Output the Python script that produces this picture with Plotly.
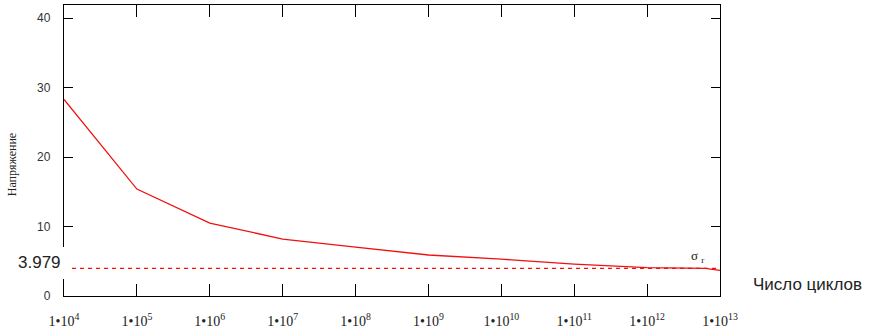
import plotly.graph_objects as go

# Data
cycles = [1e4, 1e5, 1e6, 1e7, 1e8, 1e9, 1e10, 1e11, 1e12, 6.3e12, 1e13]
stress = [28.3, 15.4, 10.5, 8.2, 7.05, 5.9, 5.3, 4.6, 4.1, 3.98, 3.7]
sigma_r = 3.979
limit_x = [1e4, 1e13]
tick_exps = [4, 5, 6, 7, 8, 9, 10, 11, 12, 13]
tick_vals = [10 ** e for e in tick_exps]
tick_text = [f"1\u202210<sup>{e}</sup>" for e in tick_exps]
y_ticks = [0, 10, 20, 30, 40]

fig = go.Figure()
fig.add_trace(go.Scatter(x=cycles, y=stress, mode="lines",
                         line=dict(color="#f01010", width=1.3), showlegend=False))
fig.add_trace(go.Scatter(x=limit_x, y=[sigma_r, sigma_r], mode="lines",
                         line=dict(color="#f01010", width=1.3, dash="4px,4px"), showlegend=False))

fig.update_layout(
    width=875, height=334,
    margin=dict(l=64, r=155, t=5, b=38, autoexpand=False),
    paper_bgcolor="white", plot_bgcolor="white",
    font=dict(family="Liberation Serif", color="#222"),
)
fig.update_xaxes(type="log", range=[4, 13], tickvals=tick_vals, ticktext=tick_text,
                 ticks="inside", ticklen=12, tickwidth=1.3, tickcolor="black",
                 showline=True, linecolor="black", linewidth=1.3, mirror="allticks",
                 showgrid=False, zeroline=False, ticklabelstandoff=12,
                 tickfont=dict(family="Liberation Serif", size=14, color="#222"))
fig.update_yaxes(range=[0, 41.9], tickvals=y_ticks,
                 ticks="inside", ticklen=9, tickwidth=1.3, tickcolor="black",
                 showline=True, linecolor="black", linewidth=1.3, mirror="allticks",
                 showgrid=False, zeroline=False, ticklabelstandoff=10,
                 tickfont=dict(family="Liberation Sans", size=12, color="#333"))

# white box behind the 3.979 label (covers the axis)
fig.add_shape(type="rect", xref="paper", yref="paper",
              x0=-0.07, x1=0.0122, y0=0.058, y1=0.168,
              fillcolor="white", line=dict(width=0), layer="above")
fig.add_annotation(text="3.979", xref="paper", yref="paper", x=-0.002, y=0.116,
                   xanchor="right", yanchor="middle", showarrow=False,
                   font=dict(family="Liberation Sans", size=17, color="#222"))
fig.add_annotation(text="σ <sub>r</sub>", xref="paper", yref="paper", x=0.965, y=0.135,
                   xanchor="center", yanchor="middle", showarrow=False,
                   font=dict(family="Liberation Serif", size=13, color="#222"))
fig.add_annotation(text="Число циклов", xref="paper", yref="paper", x=1.047, y=0.04,
                   xanchor="left", yanchor="middle", showarrow=False,
                   font=dict(family="Liberation Sans", size=17, color="#222"))
fig.add_annotation(text="Напряжение", xref="paper", yref="paper", x=-0.079, y=0.45,
                   xanchor="center", yanchor="middle", showarrow=False, textangle=-90,
                   font=dict(family="Liberation Serif", size=12, color="#222"))

fig.write_html("out.html", config={"displayModeBar": False},
               post_script="document.body.style.margin='0';")
